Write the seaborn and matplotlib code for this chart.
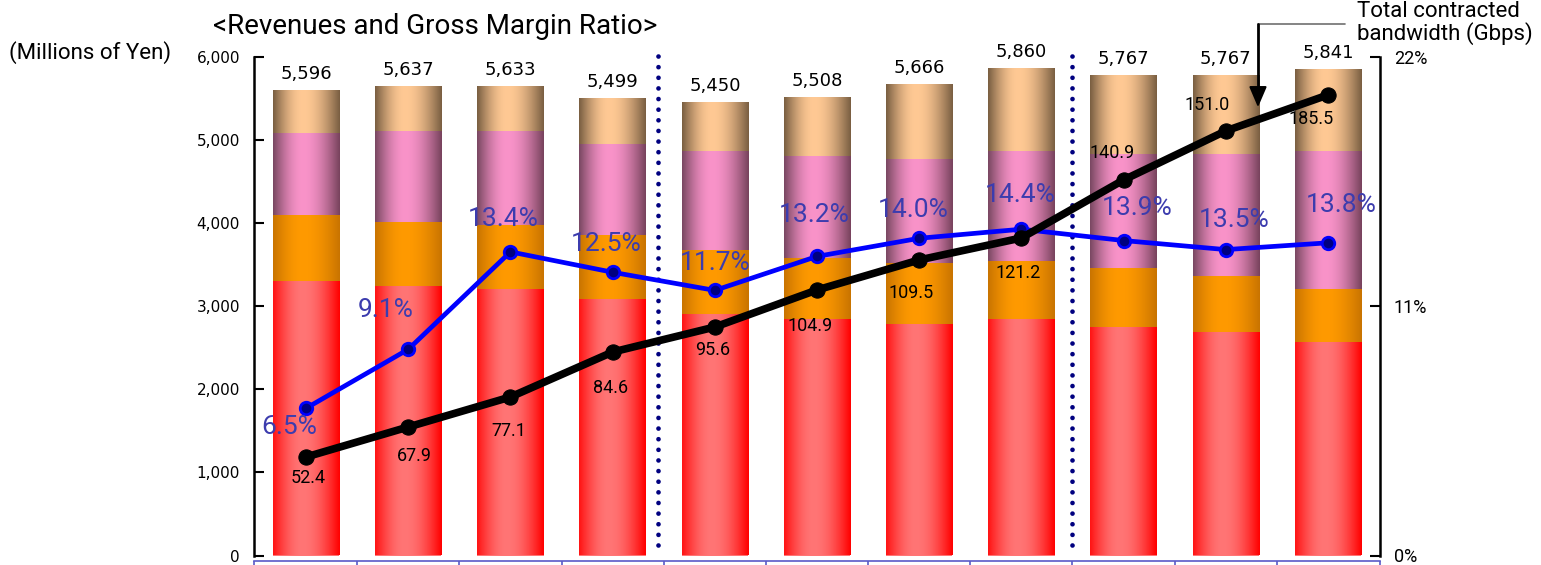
import numpy as np
import pandas as pd
import matplotlib
matplotlib.use("Agg")
import matplotlib.pyplot as plt
import seaborn as sns
from matplotlib.colors import to_rgb
from matplotlib.lines import Line2D
from matplotlib.ticker import FixedLocator, FuncFormatter, NullFormatter

# ---------------- data ----------------
periods = ["P1", "P2", "P3", "P4", "P5", "P6", "P7", "P8", "P9", "P10", "P11"]
rev_red = [3292, 3232, 3196, 3075, 2895, 2835, 2774, 2835, 2738, 2678, 2558]
rev_orange = [794, 770, 770, 771, 770, 734, 735, 698, 711, 674, 638]
rev_pink = [987, 1095, 1131, 1095, 1192, 1228, 1252, 1324, 1372, 1469, 1661]
rev_total = [5596, 5637, 5633, 5499, 5450, 5508, 5666, 5860, 5767, 5767, 5841]
gross_margin_pct = [6.5, 9.1, 13.4, 12.5, 11.7, 13.2, 14.0, 14.4, 13.9, 13.5, 13.8]
bandwidth_gbps = [52.4, 67.9, 77.1, 84.6, 95.6, 104.9, 109.5, 121.2, 140.9, 151.0, 185.5]
# height at which the bandwidth line is drawn, read against the left (yen) axis
bandwidth_level = [1186, 1547, 1908, 2449, 2750, 3196, 3557, 3822, 4520, 5110, 5543]

df = pd.DataFrame({
    "period": periods,
    "red": rev_red,
    "orange": rev_orange,
    "pink": rev_pink,
    "total": rev_total,
    "gm": gross_margin_pct,
    "bw": bandwidth_gbps,
    "bw_level": bandwidth_level,
})
df["tan"] = df["total"] - df["red"] - df["orange"] - df["pink"]
df["cum_red"] = df["red"]
df["cum_orange"] = df["red"] + df["orange"]
df["cum_pink"] = df["cum_orange"] + df["pink"]
df["x"] = np.arange(len(df))

# ---------------- style ----------------
sns.set_theme(style="white")
plt.rcParams["font.family"] = ["Roboto", "DejaVu Sans"]

W, H = 1541, 565
fig = plt.figure(figsize=(W / 100, H / 100), dpi=100)
ax = fig.add_axes([254 / W, (H - 555.5) / H, 1126 / W, 498.5 / H])


def gradient(left, center, right, peak=0.45, n=96):
    t = np.linspace(0, 1, n)
    l, c, r = (np.array(to_rgb(v)) for v in (left, center, right))
    out = np.zeros((1, n, 3))
    for j, tv in enumerate(t):
        if tv <= peak:
            f = np.sin(tv / peak * np.pi / 2)
            out[0, j] = l + (c - l) * f
        else:
            f = 1 - np.cos((tv - peak) / (1 - peak) * np.pi / 2)
            out[0, j] = c + (r - c) * f
    return out


layers = [
    ("total", ("#7a5f42", "#ffc994", "#7a5f42")),
    ("cum_pink", ("#7a4862", "#f993c9", "#78435d")),
    ("cum_orange", ("#c97400", "#ff9a00", "#c97400")),
    ("cum_red", ("#ff1414", "#ff7575", "#ff0000")),
]

for k, (col, cols) in enumerate(layers):
    n0 = len(ax.patches)
    sns.barplot(data=df, x="period", y=col, color=cols[1], width=0.65,
                saturation=1, ax=ax, zorder=1, linewidth=0)
    grad = gradient(*cols)
    for p in ax.patches[n0:]:
        x0, y0 = p.get_x(), p.get_y()
        w, h = p.get_width(), p.get_height()
        ax.imshow(grad, extent=[x0, x0 + w, y0, y0 + h], aspect="auto",
                  interpolation="bilinear", zorder=2 + k * 0.01)

ax.set_xlim(-0.51, 10.51)
ax.set_ylim(0, 6000)

# totals above bars
for i, v in enumerate(df["total"]):
    ax.annotate(f"{v:,}", (i, v), xytext=(0, 17), textcoords="offset pixels",
                ha="center", va="center", fontsize=13, fontfamily="DejaVu Sans",
                color="black", zorder=10)

# dotted separators
for xs in (3.44, 7.5):
    ax.plot([xs, xs], [130, 6085], color="#000080", lw=3.4,
            linestyle=(0, (0.001, 2.25)), dash_capstyle="round",
            clip_on=False, zorder=4)

# left axis styling
ax.yaxis.set_major_locator(FixedLocator([0, 1000, 2000, 3000, 4000, 5000, 6000]))
ax.yaxis.set_major_formatter(FuncFormatter(lambda v, p: f"{int(v):,}"))
ax.tick_params(axis="y", left=True, direction="in", length=7, width=1.5,
               colors="black", labelsize=11, pad=10)
for lab in ax.get_yticklabels():
    lab.set_fontfamily("DejaVu Sans")
ax.spines["left"].set_linewidth(1.8)
ax.spines["left"].set_color("black")
ax.spines["top"].set_visible(False)
ax.spines["right"].set_visible(False)
ax.spines["bottom"].set_position(("outward", 4))
ax.spines["bottom"].set_color("#5a5ac8")
ax.spines["bottom"].set_linewidth(1.2)
bounds = [-0.51] + [i + 0.5 for i in range(10)] + [10.51]
ax.xaxis.set_major_locator(FixedLocator(bounds))
ax.xaxis.set_major_formatter(NullFormatter())
ax.tick_params(axis="x", which="major", bottom=True, direction="out",
               length=12, width=1.2, color="#5a5ac8")
ax.set_xlabel("")
ax.set_ylabel("")

# right axis: gross margin ratio
ax2 = ax.twinx()
ax2.set_ylim(0, 22)
sns.lineplot(data=df, x="x", y="gm", ax=ax2, color="#0000ff", lw=3.4,
             marker="o", markersize=9, markerfacecolor="#000080",
             markeredgecolor="#0000ff", markeredgewidth=2, zorder=5)
ax2.set_xlim(-0.51, 10.51)
ax2.yaxis.set_major_locator(FixedLocator([0, 11, 22]))
ax2.yaxis.set_major_formatter(FuncFormatter(lambda v, p: f"{int(v)}%"))
ax2.tick_params(axis="y", right=True, direction="in", length=7, width=1.5,
                colors="black", labelsize=13, pad=10)
for s in ("top", "bottom", "left"):
    ax2.spines[s].set_visible(False)
ax2.spines["right"].set_linewidth(1.8)
ax2.spines["right"].set_color("black")
ax2.set_xlabel("")
ax2.set_ylabel("")
ax2.tick_params(axis="x", bottom=False, labelbottom=False)

gm_off = [(-17, -19), (-23, 39), (-7, 33), (-6, 28), (0, 27), (-3, 41),
          (-6, 28), (-1, 34), (14, 33), (8, 30), (13, 38)]
for i, (v, off) in enumerate(zip(df["gm"], gm_off)):
    ax2.annotate(f"{v:.1f}%", (i, v), xytext=off, textcoords="offset pixels",
                 ha="center", va="center", fontsize=19, color="#3c3cae", zorder=11)

# hidden axis for bandwidth line (same scale as yen axis), drawn on top
ax3 = ax.twinx()
ax3.set_ylim(0, 6000)
sns.lineplot(data=df, x="x", y="bw_level", ax=ax3, color="black", lw=5.5,
             marker="o", markersize=11, markerfacecolor="black",
             markeredgecolor="black", zorder=6)
ax3.set_xlim(-0.51, 10.51)
ax3.set_axis_off()

bw_off = [(2, -21), (6, -29), (-2, -34), (-2, -36), (-2, -23), (-7, -36),
          (-8, -33), (-3, -35), (-11, 27), (-19, 26), (-17, -24)]
for i, (lv, v, off) in enumerate(zip(df["bw_level"], df["bw"], bw_off)):
    ax3.annotate(f"{v:.1f}", (i, lv), xytext=off, textcoords="offset pixels",
                 ha="center", va="center", fontsize=13, color="black", zorder=12)

# titles and notes
fig.text(435 / W, 1 - 27 / H, "<Revenues and Gross Margin Ratio>",
         ha="center", va="center", fontsize=20, color="black")
fig.text(90 / W, 1 - 53 / H, "(Millions of Yen)", ha="center", va="center",
         fontsize=16, color="black")
fig.text(1357 / W, 1 - 1 / H, "Total contracted\nbandwidth (Gbps)", ha="left",
         va="top", fontsize=16, color="black", linespacing=1.0)

fig.add_artist(Line2D([1258 / W, 1345 / W], [1 - 24 / H, 1 - 24 / H],
                      color="#707070", lw=1.2))
fig.add_artist(Line2D([1258 / W, 1258 / W], [1 - 24 / H, 1 - 96 / H],
                      color="black", lw=2))
ax.annotate("", xy=(1258, H - 110), xytext=(1258, H - 94),
            xycoords="figure pixels", textcoords="figure pixels",
            arrowprops=dict(arrowstyle="-|>,head_length=0.7,head_width=0.3",
                            color="black", lw=1.5, mutation_scale=18))

fig.savefig("out.png", dpi=100)
